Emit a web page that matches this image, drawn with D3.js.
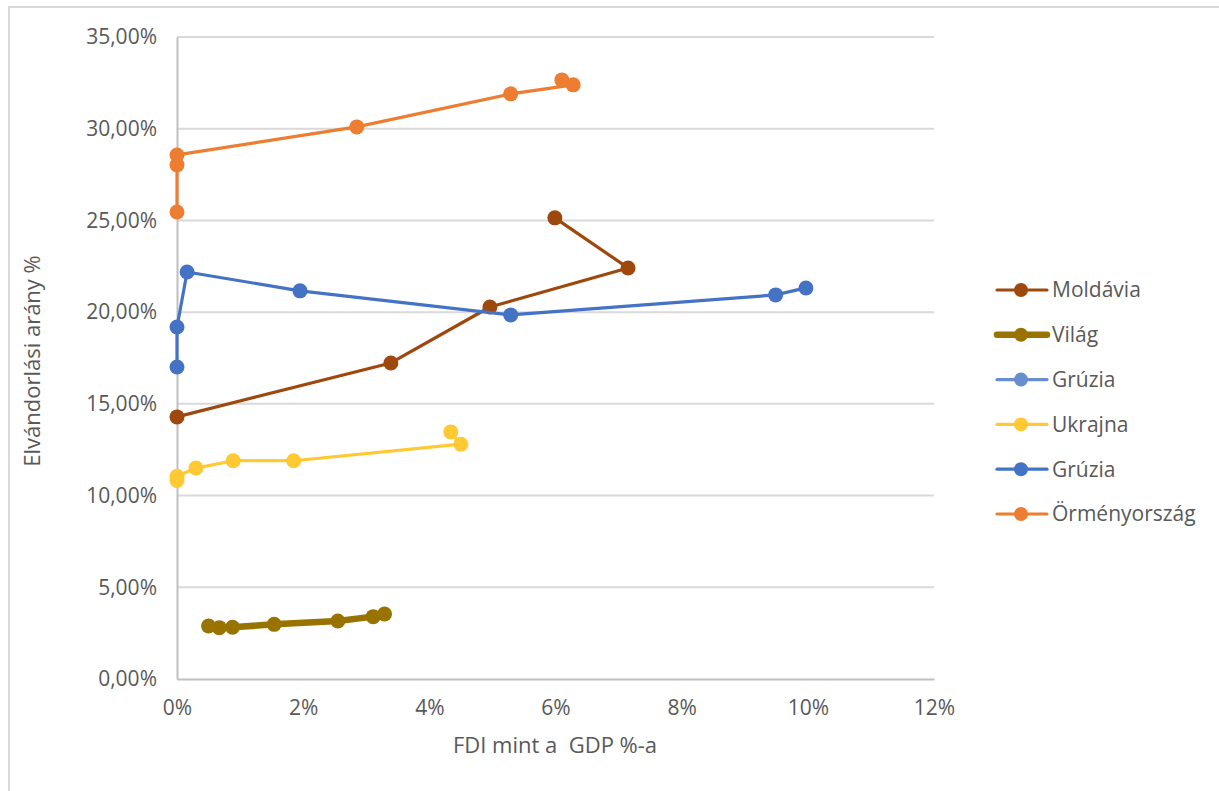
<!DOCTYPE html>
<html><head><meta charset="utf-8">
<script src="https://cdn.jsdelivr.net/npm/d3@7"></script>
<style>body{margin:0;background:#fff}svg{display:block;font-family:"Open Sans",sans-serif}</style>
</head><body><svg id="c" width="1219" height="791"></svg>
<script>
// Data: [FDI % of GDP, emigration rate %]
const moldavia = [[0,14.29],[3.39,17.23],[4.96,20.28],[7.15,22.41],[5.99,25.14]];
const vilag = [[0.50,2.89],[0.67,2.80],[0.88,2.82],[1.54,2.98],[2.55,3.16],[3.11,3.40],[3.29,3.54]];
const gruziaLight = [];
const ukrajna = [[0,10.82],[0,11.05],[0.30,11.5],[0.89,11.9],[1.85,11.9],[4.50,12.8],[4.34,13.47]];
const gruzia = [[0,17.01],[0,19.19],[0.16,22.19],[1.95,21.16],[5.29,19.85],[9.49,20.94],[9.97,21.32]];
const ormeny = [[0,25.46],[0,28.03],[0,28.57],[2.85,30.1],[5.29,31.9],[6.28,32.39],[6.10,32.66]];
const seriesNames = ["Moldávia","Világ","Grúzia","Ukrajna","Grúzia","Örményország"];
const xTicks = [0,2,4,6,8,10,12];
const yTicks = [0,5,10,15,20,25,30,35];

const series = [
  {name:seriesNames[0], data:moldavia, color:"#9E480E", w:3.2, r:7.5},
  {name:seriesNames[1], data:vilag, color:"#997300", w:6.5, r:7.5},
  {name:seriesNames[2], data:gruziaLight, color:"#698ED0", w:3.2, r:7.5},
  {name:seriesNames[3], data:ukrajna, color:"#FFC933", w:3.2, r:7.5},
  {name:seriesNames[4], data:gruzia, color:"#4472C4", w:3.2, r:7.5},
  {name:seriesNames[5], data:ormeny, color:"#ED7D31", w:3.2, r:7.5}
];

const svg = d3.select("#c");
const txt = "#595959";
// outer frame
svg.append("rect").attr("x",9).attr("y",7).attr("width",1260).attr("height",820)
  .attr("fill","none").attr("stroke","#d9d9d9").attr("stroke-width",2);

const x = d3.scaleLinear().domain([0,12]).range([177,934]);
const y = d3.scaleLinear().domain([0,35]).range([679,37]);

// gridlines
svg.append("g").selectAll("line").data(yTicks.filter(d=>d>0)).join("line")
  .attr("x1",x(0)).attr("x2",x(12)).attr("y1",d=>y(d)).attr("y2",d=>y(d))
  .attr("stroke","#d9d9d9").attr("stroke-width",2);

// axes
const ya = svg.append("g").attr("transform",`translate(${x(0)},0)`)
  .call(d3.axisLeft(y).tickValues(yTicks).tickSize(0).tickPadding(20)
    .tickFormat(d=>d.toFixed(2).replace(".",",")+"%"));
ya.select(".domain").attr("stroke","#bfbfbf").attr("stroke-width",2);
ya.selectAll("text").attr("fill",txt).style("font-size","21px").style("font-family","Open Sans");

const xa = svg.append("g").attr("transform",`translate(0,${y(0)})`)
  .call(d3.axisBottom(x).tickValues(xTicks).tickSize(0).tickPadding(21).tickFormat(d=>d+"%"));
xa.select(".domain").attr("stroke","#bfbfbf").attr("stroke-width",2);
xa.selectAll("text").attr("fill",txt).style("font-size","21px").style("font-family","Open Sans");

// axis titles
svg.append("text").attr("x",555).attr("y",753).attr("text-anchor","middle")
  .attr("fill",txt).style("font-size","22px").style("white-space","pre").text("FDI mint a  GDP %-a");
svg.append("text").attr("transform",`translate(40,361) rotate(-90)`)
  .attr("text-anchor","middle").attr("fill",txt).style("font-size","22px").text("Elvándorlási arány %");

// series
const line = d3.line().x(d=>x(d[0])).y(d=>y(d[1]));
series.forEach(s=>{
  const g = svg.append("g");
  g.append("path").datum(s.data).attr("d",line).attr("fill","none")
    .attr("stroke",s.color).attr("stroke-width",s.w).attr("stroke-linejoin","round").attr("stroke-linecap","round");
  g.selectAll("circle").data(s.data).join("circle")
    .attr("cx",d=>x(d[0])).attr("cy",d=>y(d[1])).attr("r",s.r).attr("fill",s.color);
});

// legend
const lg = svg.append("g");
series.forEach((s,i)=>{
  const yy = 290 + i*44.8;
  lg.append("line").attr("x1",997).attr("x2",1047).attr("y1",yy).attr("y2",yy)
    .attr("stroke",s.color).attr("stroke-width",s.w).attr("stroke-linecap","round");
  lg.append("circle").attr("cx",1021).attr("cy",yy).attr("r",7).attr("fill",s.color);
  lg.append("text").attr("x",1052).attr("y",yy).attr("dy","0.35em").attr("fill",txt)
    .style("font-size","21px").text(s.name);
});
</script></body></html>
